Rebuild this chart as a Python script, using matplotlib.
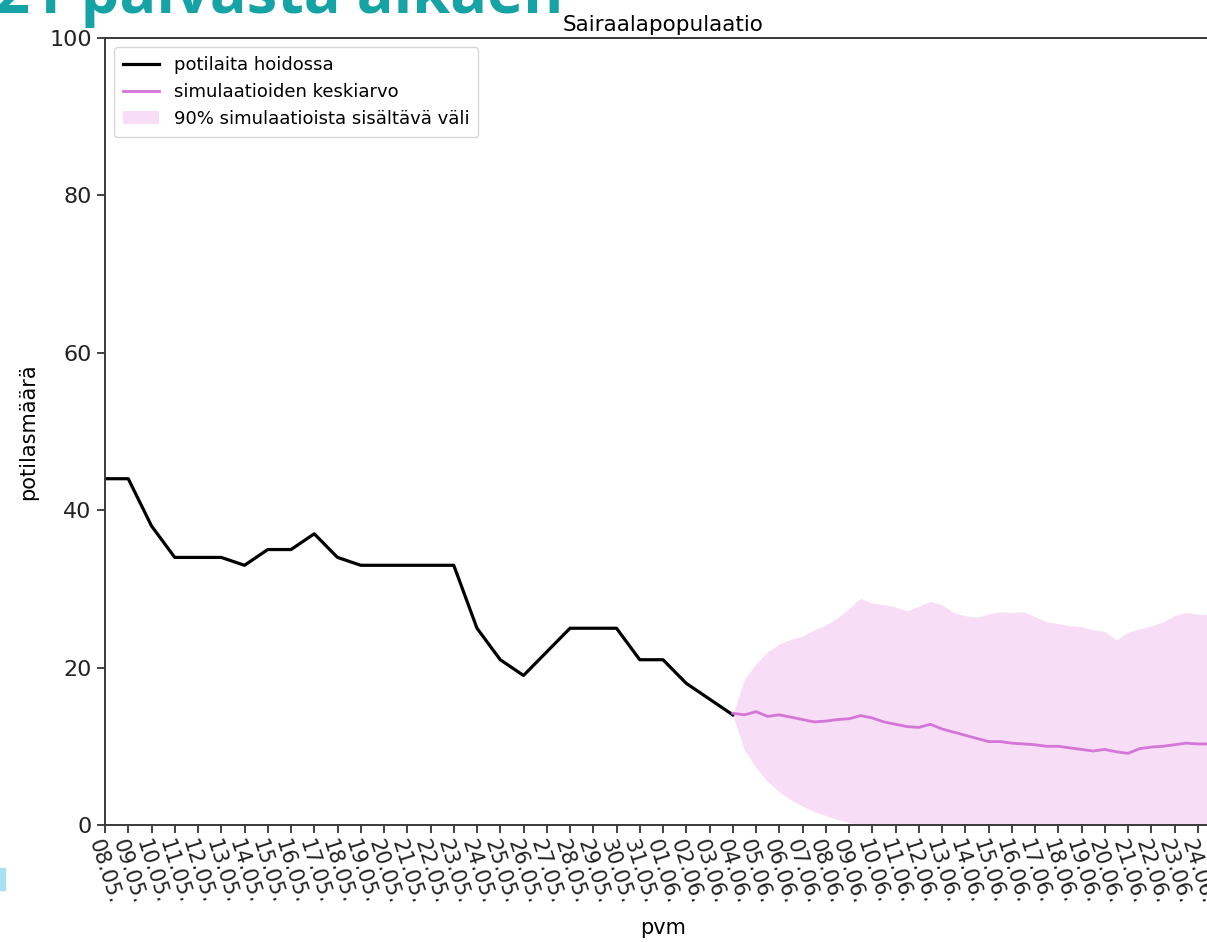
import matplotlib
matplotlib.use("Agg")
import matplotlib.pyplot as plt
import matplotlib.dates as mdates
import pandas as pd
import numpy as np

# ---------------- data ----------------
obs_start = "2020-05-08"
observed = [44, 44, 38, 34, 34, 34, 33, 35, 35, 37, 34, 33, 33, 33, 33, 33,
            25, 21, 19, 22, 25, 25, 25, 21, 21, 18, 16, 14]

sim_start = "2020-06-04"
sim_mean = [14.2, 14.0, 14.4, 13.8, 14.0, 13.7, 13.4, 13.1, 13.2, 13.4,
            13.5, 13.9, 13.6, 13.1, 12.8, 12.5, 12.4, 12.8, 12.2, 11.8,
            11.4, 11.0, 10.6, 10.6, 10.4, 10.3, 10.2, 10.0, 10.0, 9.8,
            9.6, 9.4, 9.6, 9.3, 9.1, 9.7, 9.9, 10.0, 10.2, 10.4,
            10.3, 10.3, 10.3]
sim_upper = [14.0, 18.5, 20.5, 22.0, 23.0, 23.6, 24.0, 24.8, 25.4, 26.3,
             27.5, 28.8, 28.2, 28.0, 27.7, 27.2, 27.8, 28.4, 28.0, 27.0,
             26.6, 26.4, 26.8, 27.1, 27.0, 27.1, 26.5, 25.8, 25.6, 25.3,
             25.2, 24.8, 24.6, 23.5, 24.5, 24.9, 25.3, 25.8, 26.6, 27.0,
             26.8, 26.7, 26.6]
sim_lower = [14.0, 9.5, 7.3, 5.5, 4.2, 3.2, 2.4, 1.7, 1.2, 0.7,
             0.3, 0.0, 0.0, 0.0, 0.0, 0.0, 0.0, 0.0, 0.0, 0.0,
             0.0, 0.0, 0.0, 0.0, 0.0, 0.0, 0.0, 0.0, 0.0, 0.0,
             0.0, 0.0, 0.0, 0.0, 0.0, 0.0, 0.0, 0.0, 0.0, 0.0,
             0.0, 0.0, 0.0]

x_end = "2020-06-25"
title = "Sairaalapopulaatio"
slide_title = "21 päivästä alkaen"
xlabel = "pvm"
ylabel = "potilasmäärä"
legend_labels = ["potilaita hoidossa", "simulaatioiden keskiarvo",
                 "90% simulaatioista sisältävä väli"]

obs_dates = pd.date_range(obs_start, periods=len(observed), freq="D")
sim_dates = pd.date_range(sim_start, periods=len(sim_mean), freq="12h")

# ---------------- figure ----------------
plt.rcParams['font.family'] = ['DejaVu Sans']
fig = plt.figure(figsize=(12.07, 9.42), dpi=100)
W, H = 1207, 942
ax = fig.add_axes([105 / W, 1 - 825 / H, (1221 - 105) / W, (825 - 38) / H])

fill = ax.fill_between(sim_dates, sim_lower, sim_upper, color="#f3c2f0",
                       alpha=0.55, linewidth=0, label=legend_labels[2])
l1, = ax.plot(obs_dates, observed, color="black", lw=2.3, label=legend_labels[0])
l2, = ax.plot(sim_dates, sim_mean, color="#d475d8", lw=2.0, label=legend_labels[1])

ax.set_ylim(0, 100)
ax.set_xlim(pd.Timestamp(obs_start), pd.Timestamp(x_end))
ax.set_yticks([0, 20, 40, 60, 80, 100])
ax.xaxis.set_major_locator(mdates.DayLocator())
ax.xaxis.set_major_formatter(mdates.DateFormatter("%d.%m."))
ax.tick_params(axis='y', labelsize=16, length=6, width=1.2, colors="#222222")
ax.tick_params(axis='x', labelsize=15, length=6, width=1.2, colors="#222222",
               labelrotation=-72, pad=3)
for lab in ax.get_xticklabels():
    lab.set_ha('center')

for s in ax.spines.values():
    s.set_color("#3a3a3a")
    s.set_linewidth(1.4)

ax.set_title(title, fontsize=15.5, pad=5)
ax.set_xlabel(xlabel, fontsize=15, labelpad=8)
ax.set_ylabel(ylabel, fontsize=15, labelpad=8)

leg = ax.legend(handles=[l1, l2, fill], loc="upper left", fontsize=13,
                frameon=True, framealpha=0.8, edgecolor="#cccccc",
                borderpad=0.5, handlelength=2.0, labelspacing=0.5,
                fancybox=True)

# cropped slide title (teal) at the very top
fig.text(-0.004, 1 - 13 / H, slide_title, fontsize=44, fontweight="bold",
         color="#16a3a6", family=["Open Sans", "DejaVu Sans"],
         va="baseline", ha="left")
# small slide fragment at left edge
fig.patches.append(plt.Rectangle((0, 1 - 890 / H), 5 / W, 22 / H,
                                 transform=fig.transFigure, color="#a8e2f2",
                                 zorder=0))

fig.savefig("out.png", dpi=100)
